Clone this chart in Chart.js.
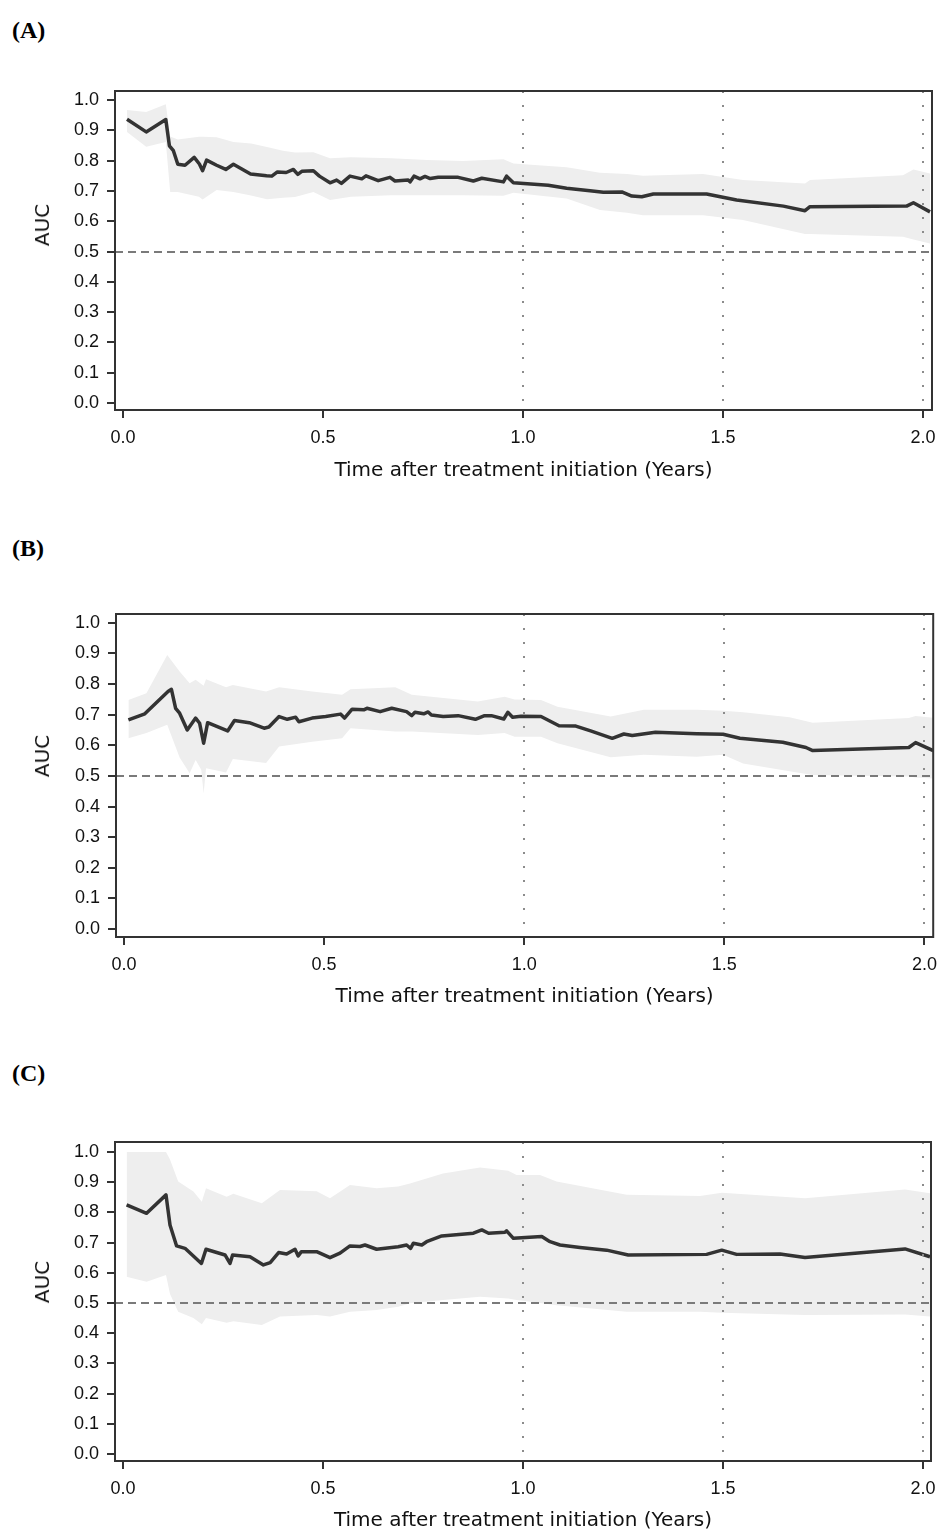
<!DOCTYPE html>
<html><head><meta charset="utf-8">
<script src="https://cdn.jsdelivr.net/npm/chart.js@4.4.1/dist/chart.umd.min.js"></script>
<style>
html,body{margin:0;padding:0;background:#fff;width:946px;height:1535px;overflow:hidden;position:relative}
.lbl{position:absolute;left:12px;font:bold 24px "Liberation Serif","Times New Roman",serif;color:#000;line-height:26px}
.ytitle{position:absolute;left:42px;font:20px "DejaVu Sans",sans-serif;color:#111;line-height:24px;white-space:nowrap;transform:translate(-50%,-50%) rotate(-90deg)}
canvas{position:absolute;left:0}
</style></head><body>
<div class="lbl" style="top:17px">(A)</div>
<div class="lbl" style="top:535px">(B)</div>
<div class="lbl" style="top:1060px">(C)</div>
<canvas id="cA" width="946" height="450" style="top:60px"></canvas>
<canvas id="cB" width="946" height="450" style="top:585px"></canvas>
<canvas id="cC" width="946" height="425" style="top:1110px"></canvas>
<div class="ytitle" id="tA" style="top:225px"></div>
<div class="ytitle" id="tB" style="top:756px"></div>
<div class="ytitle" id="tC" style="top:1282px"></div>
<script>
const xTicks = [0, 0.5, 1.0, 1.5, 2.0];
const yTicks = [0, 0.1, 0.2, 0.3, 0.4, 0.5, 0.6, 0.7, 0.8, 0.9, 1.0];
const xRefLines = [1.0, 1.5, 2.0];
const yRefLine = 0.5;
const xTitle = 'Time after treatment initiation (Years)';
const yTitle = 'AUC';

// Panel A
const timeA = [0.01,0.058,0.107,0.116,0.126,0.137,0.155,0.178,0.191,0.199,0.209,0.234,0.257,0.276,0.319,0.359,0.372,0.386,0.408,0.426,0.437,0.447,0.476,0.491,0.5175,0.534,0.546,0.5675,0.597,0.6075,0.638,0.6675,0.68,0.713,0.7175,0.7275,0.7425,0.755,0.768,0.788,0.838,0.876,0.897,0.951,0.959,0.976,1.063,1.109,1.1675,1.201,1.247,1.272,1.297,1.326,1.459,1.534,1.651,1.705,1.7175,1.959,1.976,2.0175];
const aucA = [0.937,0.895,0.936,0.849,0.833,0.788,0.785,0.811,0.789,0.767,0.802,0.785,0.771,0.788,0.756,0.750,0.749,0.763,0.761,0.771,0.755,0.765,0.767,0.749,0.727,0.736,0.725,0.749,0.740,0.750,0.734,0.745,0.733,0.736,0.730,0.749,0.740,0.748,0.741,0.745,0.745,0.733,0.742,0.730,0.749,0.727,0.719,0.709,0.701,0.696,0.697,0.683,0.681,0.690,0.690,0.670,0.650,0.635,0.648,0.650,0.661,0.631];
const bandTimeA = [0.01,0.058,0.107,0.118,0.137,0.19,0.199,0.234,0.276,0.32,0.36,0.40,0.43,0.476,0.5175,0.57,0.67,0.76,0.85,0.951,0.976,1.109,1.1925,1.26,1.3,1.45,1.55,1.705,1.7175,1.95,1.976,2.0175];
const upperA = [0.967,0.961,0.986,0.880,0.870,0.879,0.879,0.877,0.862,0.857,0.845,0.833,0.827,0.828,0.808,0.811,0.808,0.802,0.799,0.805,0.791,0.778,0.760,0.756,0.750,0.756,0.736,0.725,0.736,0.752,0.771,0.758];
const lowerA = [0.895,0.846,0.862,0.697,0.697,0.681,0.672,0.703,0.697,0.685,0.673,0.678,0.680,0.697,0.670,0.681,0.686,0.686,0.686,0.684,0.694,0.675,0.637,0.628,0.620,0.620,0.604,0.558,0.558,0.549,0.540,0.527];

// Panel B
const timeB = [0.011,0.052,0.110,0.1185,0.129,0.139,0.158,0.179,0.189,0.199,0.209,0.259,0.276,0.313,0.350,0.362,0.3875,0.408,0.429,0.437,0.470,0.504,0.541,0.551,0.570,0.599,0.607,0.640,0.669,0.706,0.719,0.727,0.749,0.760,0.768,0.7975,0.835,0.878,0.901,0.918,0.949,0.959,0.971,0.992,1.042,1.087,1.129,1.166,1.220,1.249,1.270,1.328,1.431,1.497,1.539,1.646,1.704,1.721,1.961,1.978,2.022];
const aucB = [0.683,0.703,0.776,0.783,0.721,0.705,0.650,0.689,0.672,0.607,0.674,0.647,0.681,0.674,0.656,0.660,0.694,0.685,0.692,0.677,0.689,0.694,0.702,0.689,0.718,0.716,0.721,0.710,0.721,0.710,0.697,0.708,0.703,0.709,0.699,0.694,0.697,0.685,0.697,0.697,0.686,0.708,0.692,0.695,0.694,0.664,0.663,0.647,0.623,0.637,0.632,0.643,0.638,0.636,0.623,0.610,0.593,0.583,0.593,0.609,0.583];
const bandTimeB = [0.011,0.056,0.108,0.139,0.164,0.179,0.193,0.199,0.205,0.255,0.272,0.355,0.3876,0.47,0.545,0.566,0.678,0.719,0.884,0.951,0.976,1.042,1.083,1.216,1.299,1.431,1.497,1.547,1.663,1.721,1.961,1.978,2.022];
const upperB = [0.748,0.770,0.895,0.841,0.803,0.814,0.800,0.795,0.816,0.790,0.797,0.776,0.790,0.776,0.765,0.783,0.790,0.765,0.743,0.759,0.750,0.748,0.726,0.694,0.716,0.716,0.713,0.708,0.692,0.674,0.689,0.696,0.690];
const lowerB = [0.623,0.640,0.667,0.560,0.509,0.552,0.520,0.443,0.525,0.511,0.555,0.542,0.596,0.612,0.623,0.656,0.645,0.645,0.634,0.640,0.628,0.628,0.607,0.561,0.569,0.563,0.569,0.541,0.515,0.503,0.498,0.495,0.492];

// Panel C
const timeC = [0.009,0.059,0.1075,0.1175,0.134,0.155,0.196,0.2075,0.255,0.2675,0.274,0.3175,0.351,0.368,0.389,0.409,0.43,0.438,0.446,0.484,0.5175,0.5425,0.5675,0.5925,0.605,0.634,0.688,0.709,0.719,0.726,0.747,0.759,0.797,0.876,0.897,0.914,0.955,0.959,0.976,1.047,1.0675,1.0925,1.1425,1.209,1.263,1.459,1.497,1.534,1.6425,1.705,1.955,2.0175];
const aucC = [0.825,0.797,0.858,0.758,0.689,0.681,0.631,0.678,0.659,0.631,0.659,0.653,0.626,0.634,0.667,0.662,0.678,0.656,0.670,0.670,0.650,0.665,0.689,0.687,0.692,0.678,0.686,0.692,0.681,0.698,0.692,0.703,0.722,0.731,0.742,0.731,0.734,0.739,0.714,0.720,0.703,0.692,0.684,0.675,0.659,0.661,0.675,0.661,0.662,0.651,0.679,0.653];
const bandTimeC = [0.009,0.059,0.1075,0.1175,0.138,0.176,0.197,0.2075,0.259,0.276,0.347,0.3925,0.484,0.5175,0.5675,0.634,0.688,0.7175,0.80,0.8925,0.963,0.984,1.0425,1.084,1.259,1.4425,1.497,1.705,1.955,2.0175];
const upperC = [1.0,1.0,1.0,0.975,0.902,0.869,0.835,0.880,0.852,0.862,0.830,0.874,0.870,0.847,0.891,0.880,0.886,0.896,0.929,0.949,0.938,0.924,0.924,0.902,0.858,0.854,0.865,0.847,0.876,0.863];
const lowerC = [0.587,0.570,0.593,0.530,0.471,0.450,0.430,0.450,0.435,0.440,0.427,0.455,0.460,0.455,0.471,0.477,0.488,0.499,0.510,0.521,0.515,0.510,0.500,0.493,0.471,0.471,0.468,0.460,0.462,0.455];

function pts(xs, ys) { return xs.map((x, i) => ({ x: x, y: ys[i] })); }

const boxPlugin = {
  id: 'box',
  afterDraw(chart) {
    const { ctx, chartArea: a } = chart;
    ctx.save();
    ctx.strokeStyle = '#333';
    ctx.lineWidth = 2;
    ctx.strokeRect(a.left, a.top, a.right - a.left, a.bottom - a.top);
    ctx.restore();
  }
};

const tickFont = { family: '"Liberation Sans", Arial, sans-serif', size: 18 };
const titleFont = { family: '"DejaVu Sans", sans-serif', size: 20 };

['tA', 'tB', 'tC'].forEach(id => { document.getElementById(id).textContent = yTitle; });

function makeChart(id, p) {
  new Chart(document.getElementById(id), {
    type: 'line',
    data: {
      datasets: [
        { data: pts(p.bandTime, p.lower), borderWidth: 0, pointRadius: 0, fill: false, tension: 0, order: 2 },
        { data: pts(p.bandTime, p.upper), borderWidth: 0, pointRadius: 0, fill: '-1', backgroundColor: '#eeeeee', tension: 0, order: 1 },
        { data: pts(p.time, p.auc), borderColor: '#333333', borderWidth: 3.5, pointRadius: 0, fill: false, tension: 0, borderJoinStyle: 'round', order: 0 }
      ]
    },
    options: {
      responsive: false, animation: false, devicePixelRatio: 1,
      layout: { padding: { top: p.padTop, right: p.padRight, left: 0, bottom: 0 } },
      plugins: { legend: { display: false }, tooltip: { enabled: false } },
      scales: {
        x: {
          type: 'linear', min: p.xMin, max: p.xMax,
          afterBuildTicks: s => { s.ticks = xTicks.map(v => ({ value: v })); },
          afterFit: s => { s.height = p.xAxisHeight; },
          ticks: { callback: v => Number(v).toFixed(1), font: tickFont, color: '#111', padding: 9, maxRotation: 0, autoSkip: false },
          grid: { z: 1, drawOnChartArea: true, color: c => (c.tick && xRefLines.includes(c.tick.value)) ? '#8c8c8c' : 'rgba(0,0,0,0)', lineWidth: 2, tickColor: '#333', tickLength: 8, tickWidth: 2 },
          border: { display: false, dash: [2, 12] },
          title: { display: true, text: xTitle, font: titleFont, color: '#111', padding: { top: 0, bottom: p.xTitlePad } }
        },
        y: {
          type: 'linear', min: p.yMin, max: p.yMax,
          afterBuildTicks: s => { s.ticks = yTicks.map(v => ({ value: v })); },
          afterFit: s => { s.width = p.yAxisWidth; },
          ticks: { callback: v => Number(v).toFixed(1), font: tickFont, color: '#111', padding: 8, autoSkip: false },
          grid: { z: 1, drawOnChartArea: true, color: c => (c.tick && Math.abs(c.tick.value - yRefLine) < 1e-9) ? '#7a7a7a' : 'rgba(0,0,0,0)', lineWidth: 2, tickColor: '#333', tickLength: 8, tickWidth: 2 },
          border: { display: false, dash: [8, 5] },
          title: { display: false }
        }
      }
    },
    plugins: [boxPlugin]
  });
}

makeChart('cA', { time: timeA, auc: aucA, bandTime: bandTimeA, upper: upperA, lower: lowerA,
  xMin: -0.02, xMax: 2.0225, yMin: -0.023, yMax: 1.030,
  padTop: 31, padRight: 14, xAxisHeight: 100, yAxisWidth: 115, xTitlePad: 27 });
makeChart('cB', { time: timeB, auc: aucB, bandTime: bandTimeB, upper: upperB, lower: lowerB,
  xMin: -0.02, xMax: 2.022, yMin: -0.026, yMax: 1.029,
  padTop: 29, padRight: 8, xAxisHeight: 98, yAxisWidth: 116, xTitlePad: 26 });
makeChart('cC', { time: timeC, auc: aucC, bandTime: bandTimeC, upper: upperC, lower: lowerC,
  xMin: -0.02, xMax: 2.02, yMin: -0.023, yMax: 1.033,
  padTop: 32, padRight: 15, xAxisHeight: 74, yAxisWidth: 115, xTitlePad: 2 });
</script>
</body></html>
